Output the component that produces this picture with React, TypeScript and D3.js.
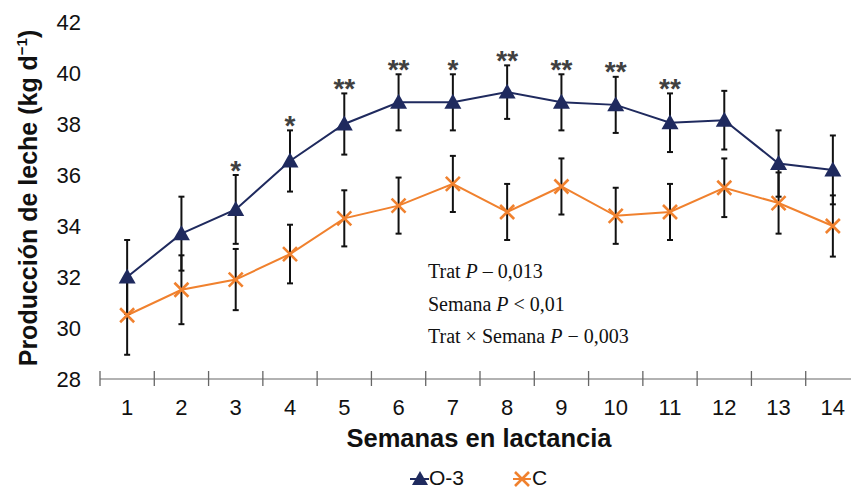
import React from "react";
import * as d3 from "d3";

// Weekly milk yield (kg/d) with standard errors
const weeks = ["1", "2", "3", "4", "5", "6", "7", "8", "9", "10", "11", "12", "13", "14"];
const omega3 = [32.0, 33.7, 34.65, 36.55, 38.0, 38.85, 38.85, 39.25, 38.85, 38.75, 38.05, 38.15, 36.45, 36.2];
const omega3Err = [1.45, 1.45, 1.35, 1.2, 1.2, 1.1, 1.1, 1.05, 1.1, 1.1, 1.15, 1.15, 1.3, 1.35];
const control = [30.5, 31.5, 31.9, 32.9, 34.3, 34.8, 35.65, 34.55, 35.55, 34.4, 34.55, 35.5, 34.9, 34.0];
const controlErr = [1.55, 1.35, 1.2, 1.15, 1.1, 1.1, 1.1, 1.1, 1.1, 1.1, 1.1, 1.15, 1.2, 1.2];
const significance = ["", "", "*", "*", "**", "**", "*", "**", "**", "**", "**", "", "", ""];
const yTicks = [28, 30, 32, 34, 36, 38, 40, 42];
const statsLines = [
  { pre: "Trat ", p: "P", post: " \u2013 0,013" },
  { pre: "Semana ", p: "P", post: " < 0,01" },
  { pre: "Trat \u00d7 Semana ", p: "P", post: " \u2212 0,003" },
];

const W = 851;
const H = 490;
const NAVY = "#1f2a5e";
const ORANGE = "#f0812e";
const SANS = "'Liberation Sans', Arial, sans-serif";
const SERIF = "'Liberation Serif', 'Times New Roman', serif";

function Triangle({ x, y, s = 17 }: { x: number; y: number; s?: number }) {
  const h = s * 0.88;
  return (
    <path
      d={`M${x},${y - h / 2 - 1}L${x + s / 2},${y + h / 2 - 1}L${x - s / 2},${y + h / 2 - 1}Z`}
      fill={NAVY}
    />
  );
}

function Cross({ x, y, s = 7 }: { x: number; y: number; s?: number }) {
  return (
    <path
      d={`M${x - s},${y - s}L${x + s},${y + s}M${x - s},${y + s}L${x + s},${y - s}`}
      stroke={ORANGE}
      strokeWidth={2.6}
      fill="none"
    />
  );
}

export default function App() {
  React.useEffect(() => {
    document.body.style.margin = "0";
  }, []);

  const x = d3.scaleBand<string>().domain(weeks).range([100, 860]).padding(0);
  const y = d3.scaleLinear().domain([28, 42]).range([379, 22]);
  const cx = (w: string) => (x(w) as number) + x.bandwidth() / 2;

  const line = d3
    .line<number>()
    .x((_, i) => cx(weeks[i]))
    .y((v) => y(v));

  const boundaries = weeks.map((w) => x(w) as number).concat([860]);

  const errorBar = (i: number, v: number, e: number, key: string) => {
    const px = cx(weeks[i]);
    const top = y(v + e);
    const bot = y(v - e);
    return (
      <g key={key} stroke="#111" strokeWidth={2}>
        <line x1={px} x2={px} y1={top} y2={bot} />
        <line x1={px - 3} x2={px + 3} y1={top} y2={top} />
        <line x1={px - 3} x2={px + 3} y1={bot} y2={bot} />
      </g>
    );
  };

  return (
    <svg width={W} height={H} style={{ position: "absolute", left: 0, top: 0, background: "#fff" }}>
      {/* y tick labels */}
      {yTicks.map((t) => (
        <text
          key={t}
          x={81}
          y={y(t)}
          dy="0.36em"
          textAnchor="end"
          fontFamily={SANS}
          fontSize={22}
          fill="#111"
        >
          {t}
        </text>
      ))}

      {/* y axis title */}
      <text
        transform={`translate(37,${198}) rotate(-90)`}
        textAnchor="middle"
        fontFamily={SANS}
        fontWeight="bold"
        fontSize={25}
        fill="#111"
      >
        Producción de leche (kg d
        <tspan fontSize={15} dy={-10}>
          {"\u22121"}
        </tspan>
        <tspan dy={10}>)</tspan>
      </text>

      {/* x axis */}
      <line x1={100} x2={860} y1={379} y2={379} stroke="#999" strokeWidth={1.3} />
      {boundaries.map((b, i) => (
        <line key={i} x1={b} x2={b} y1={371} y2={386} stroke="#666" strokeWidth={1.3} />
      ))}
      {weeks.map((w) => (
        <text
          key={w}
          x={cx(w)}
          y={415}
          textAnchor="middle"
          fontFamily={SANS}
          fontSize={22}
          fill="#111"
        >
          {w}
        </text>
      ))}
      <text x={479} y={447} textAnchor="middle" fontFamily={SANS} fontWeight="bold" fontSize={25.5} fill="#111">
        Semanas en lactancia
      </text>

      {/* series lines */}
      <path d={line(omega3) || ""} fill="none" stroke={NAVY} strokeWidth={2} />
      <path d={line(control) || ""} fill="none" stroke={ORANGE} strokeWidth={2} />

      {/* error bars */}
      {omega3.map((v, i) => errorBar(i, v, omega3Err[i], `eo${i}`))}
      {control.map((v, i) => errorBar(i, v, controlErr[i], `ec${i}`))}

      {/* markers */}
      {omega3.map((v, i) => (
        <Triangle key={`t${i}`} x={cx(weeks[i])} y={y(v)} />
      ))}
      {control.map((v, i) => (
        <Cross key={`c${i}`} x={cx(weeks[i])} y={y(v)} />
      ))}

      {/* significance marks */}
      {significance.map((s, i) =>
        s ? (
          <text
            key={`s${i}`}
            x={cx(weeks[i])}
            y={y(omega3[i] + omega3Err[i]) + 4.5}
            textAnchor="middle"
            fontFamily={SANS}
            fontWeight="bold"
            fontSize={28}
            fill="#404040"
          >
            {s}
          </text>
        ) : null
      )}

      {/* statistics */}
      {statsLines.map((l, i) => (
        <text key={`st${i}`} x={428} y={278 + i * 32.5} fontFamily={SERIF} fontSize={20} fill="#111">
          {l.pre}
          <tspan fontStyle="italic">{l.p}</tspan>
          {l.post}
        </text>
      ))}

      {/* legend */}
      <line x1={410} x2={429} y1={479} y2={479} stroke={NAVY} strokeWidth={2} />
      <Triangle x={420} y={479} s={16} />
      <text x={429} y={485} fontFamily={SANS} fontSize={21} fill="#111">
        O-3
      </text>
      <line x1={513} x2={531} y1={479} y2={479} stroke={ORANGE} strokeWidth={2} />
      <Cross x={522} y={479} s={7} />
      <text x={532} y={485} fontFamily={SANS} fontSize={21} fill="#111">
        C
      </text>
    </svg>
  );
}
